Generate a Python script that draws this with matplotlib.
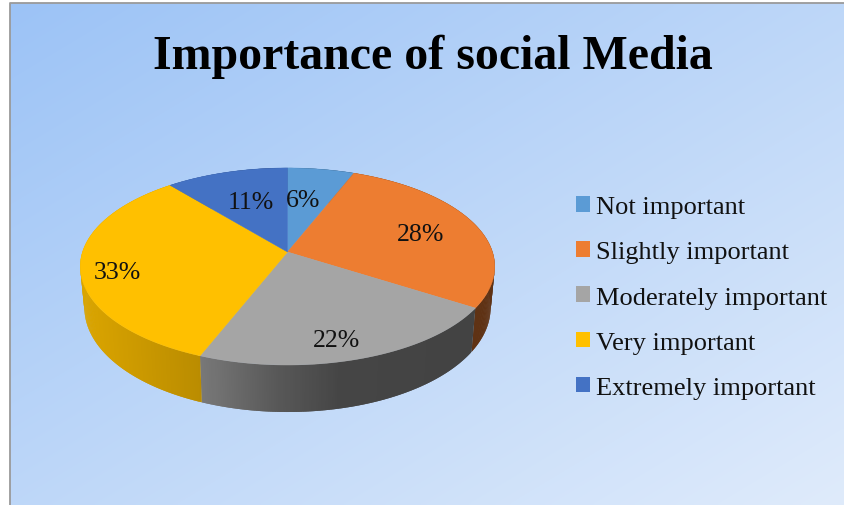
import numpy as np
import matplotlib
matplotlib.use("Agg")
import matplotlib.pyplot as plt
from matplotlib.collections import PolyCollection
from matplotlib.patches import Patch

plt.rcParams["font.family"] = ["Liberation Serif", "DejaVu Serif"]

title = "Importance of social Media"
categories = ["Not important", "Slightly important", "Moderately important",
              "Very important", "Extremely important"]
shares = [6, 28, 22, 33, 11]
colors = ["#5B9BD5", "#ED7D31", "#A5A5A5", "#FFC000", "#4472C4"]

W, H = 844, 506
# pie placement in pixels, with a perspective term for the tilt
CX, CY = 287.5, 253
RX, RY, PERSP = 205, 96.4, 0.147
label_pos = [(303, 201), (421, 235), (337, 341), (117, 273), (251, 203)]


def top_rim(theta):
    # theta is clockwise from 12 o'clock
    u, v = np.sin(theta), np.cos(theta)
    w = 1 + PERSP * v
    return CX + RX * u / w, CY - RY * v / w


def bottom_rim(theta):
    x, y = top_rim(theta)
    return CX + (x - CX) * 0.98, y + 40 - 7 * np.cos(theta)


def side_shade(x):
    return np.interp(x, [80, 200, 280, 340, 500], [0.86, 0.73, 0.53, 0.42, 0.40])


fig = plt.figure(figsize=(W / 100, H / 100), dpi=100)
ax = fig.add_axes([0, 0, 1, 1])

# diagonal background gradient
yy, xx = np.mgrid[0:1:200j, 0:1:300j]
t = ((xx + yy) / 2)[..., None]
grad = (1 - t) * np.array([0x9C, 0xC3, 0xF6]) / 255 + t * np.array([0xDF, 0xEB, 0xFB]) / 255
ax.imshow(grad, extent=(10, W, H, 4), aspect="auto", zorder=0, interpolation="bilinear")
ax.plot([10, 10, W], [H, 4, 4], color="#9a9a9a", lw=1.3, zorder=1)
ax.set_xlim(0, W)
ax.set_ylim(H, 0)
ax.axis("off")

edges = 2 * np.pi * np.cumsum([0] + shares) / sum(shares)

# side wall first, the top faces cover whatever sits behind them
for i, color in enumerate(colors):
    a0, a1 = edges[i], edges[i + 1]
    n = max(int((a1 - a0) / 0.01), 2)
    th = np.linspace(a0, a1, n + 1)
    xt, yt = top_rim(th)
    xb, yb = bottom_rim(th)
    polys, cols = [], []
    base = np.array(matplotlib.colors.to_rgb(color))
    for j in range(n):
        # each strip runs under the next one so no seams show
        k = min(j + 2, n)
        polys.append([(xt[j], yt[j]), (xt[k], yt[k]), (xb[k], yb[k]), (xb[j], yb[j])])
        cols.append(base * side_shade((xt[j] + xt[j + 1]) / 2))
    ax.add_collection(PolyCollection(polys, facecolors=cols, edgecolors="none",
                                     linewidths=0, zorder=2))

for i, color in enumerate(colors):
    th = np.linspace(edges[i], edges[i + 1], 200)
    x, y = top_rim(th)
    ax.fill(np.r_[CX, x], np.r_[CY, y], color=color, lw=0.3, zorder=3)

for share, (lx, ly) in zip(shares, label_pos):
    ax.text(lx, ly, f"{share}%", fontsize=18.6, color="#111111",
            ha="center", va="center", zorder=4)

ax.text(432.5, 57, title, fontsize=34.5, fontweight="bold", color="black",
        ha="center", va="center", zorder=4)

handles = [Patch(facecolor=c, edgecolor="none") for c in colors]
ax.legend(handles, categories, loc="upper left", bbox_to_anchor=(576, 197),
          bbox_transform=ax.transData, frameon=False, fontsize=19,
          handlelength=0.53, handleheight=0.53, handletextpad=0.23,
          labelspacing=0.875, borderpad=0, borderaxespad=0, labelcolor="#111111")

fig.savefig("out.png", dpi=100, facecolor="white")
